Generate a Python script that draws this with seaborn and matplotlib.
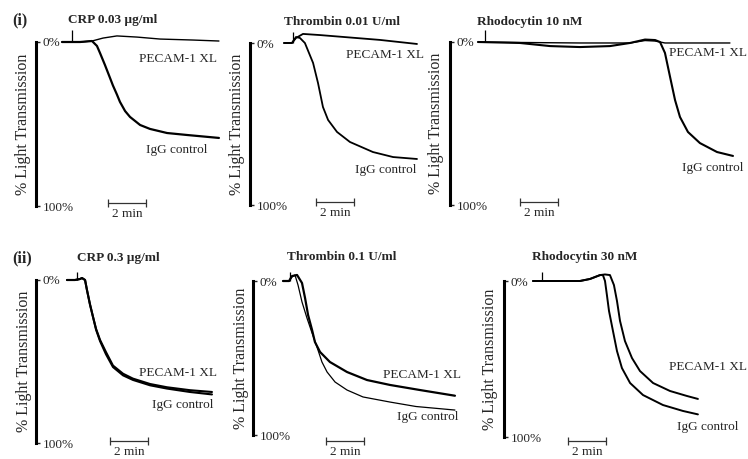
import matplotlib
matplotlib.use('Agg')
import matplotlib.pyplot as plt
import seaborn as sns
import pandas as pd

# time in minutes from start of trace, values in % light transmission
# (i) CRP 0.03 ug/ml
p1_pecam_t = [0, 0.95, 1.58, 2.16, 2.89, 3.95, 5.16, 6.89, 8.26]
p1_pecam_y = [0, 0, -0.6, -2.4, -3.7, -3.0, -1.8, -1.2, -0.6]
p1_igg_t = [0, 0.95, 1.58, 1.84, 2.0, 2.26, 2.53, 2.68, 2.89, 3.05, 3.32, 3.58,
            4.11, 4.63, 5.53, 6.58, 8.26]
p1_igg_y = [0, 0, -0.6, 2.4, 6.7, 14.0, 22.0, 26.5, 32.0, 36.5, 42.1, 45.7,
            50.6, 53.0, 55.5, 56.7, 58.5]

# (i) Thrombin 0.01 U/ml
p2_pecam_t = [0, 0.42, 0.63, 1.0, 1.89, 3.47, 5.05, 7.0]
p2_pecam_y = [0, 0, -3.1, -5.6, -4.9, -3.4, -1.9, 0.6]
p2_igg_t = [0, 0.42, 0.63, 0.84, 1.1, 1.53, 1.79, 2.05, 2.32, 2.79, 3.47, 4.68, 5.74, 7.0]
p2_igg_y = [0, 0, -3.7, -3.1, 0, 12.3, 24.7, 39.5, 47.5, 54.9, 61.1, 67.3, 70.4, 71.6]

# (i) Rhodocytin 10 nM
p3_pecam_t = [0, 2.21, 5.37, 8.0, 8.79, 9.32, 9.84, 13.26]
p3_pecam_y = [0, 0.3, 0.6, 0.6, -0.9, -0.6, 0.6, 0.6]
p3_igg_t = [0, 2.21, 3.79, 5.37, 6.95, 8.0, 8.79, 9.32, 9.58, 9.84, 10.11, 10.37,
            10.63, 11.05, 11.68, 12.58, 13.42]
p3_igg_y = [0, 0.6, 2.5, 3.1, 2.5, 0.6, -1.5, -1.2, 0, 6.7, 21.5, 35.6,
            46.0, 55.2, 62.0, 67.5, 69.9]

# (ii) CRP 0.3 ug/ml
p4_t = [0, 0.42, 0.68, 0.79, 0.95, 1.05, 1.21, 1.37, 1.53, 1.74, 2.05, 2.42,
        2.95, 3.47, 4.37, 5.26, 6.47, 7.63]
p4_pecam_y = [0, 0, -0.6, -1.2, 0, 6.1, 15.0, 22.7, 30.0, 36.8, 44.2, 52.5,
              57.5, 60.5, 63.8, 65.8, 67.6, 68.7]
p4_igg_y = [0, 0, -0.6, -1.2, 0, 6.1, 15.0, 22.7, 30.5, 37.5, 45.5, 53.4,
            58.5, 61.3, 64.6, 66.6, 68.7, 70.2]

# (ii) Thrombin 0.1 U/ml
p5_pecam_t = [0, 0.32, 0.47, 0.74, 1.0, 1.16, 1.32, 1.53, 1.68, 1.95, 2.47,
              3.37, 4.42, 5.63, 7.21, 9.05]
p5_pecam_y = [0, 0, -3.2, -3.9, 1.3, 11.0, 22.1, 31.8, 39.6, 46.1, 52.6,
              59.1, 64.3, 67.5, 70.8, 74.5]
p5_igg_t = [0, 0.32, 0.47, 0.63, 0.79, 1.0, 1.26, 1.53, 1.79, 2.05, 2.32,
            2.74, 3.37, 4.21, 5.63, 7.0, 9.05]
p5_igg_y = [0, 0, -2.6, -3.9, 2.6, 13.6, 24.0, 33.8, 42.9, 52.6, 59.1,
            65.6, 70.8, 75.3, 78.6, 81.5, 83.8]

# (ii) Rhodocytin 30 nM
p6_pecam_t = [0, 1.42, 2.47, 3.0, 3.53, 3.79, 4.05, 4.26, 4.42, 4.58, 4.84,
              5.21, 5.63, 6.32, 7.21, 8.1, 8.68]
p6_pecam_y = [0, 0, 0, -1.3, -3.8, -4.2, -3.8, 2.6, 12.8, 25.6, 38.5,
              49.4, 57.7, 65.4, 70.5, 73.7, 75.6]
p6_igg_t = [0, 1.42, 2.47, 3.0, 3.53, 3.68, 3.79, 3.89, 4.0, 4.21, 4.42,
            4.68, 5.11, 5.79, 6.84, 7.89, 8.68]
p6_igg_y = [0, 0, 0, -1.3, -3.8, -3.8, 0, 9.0, 19.2, 32.1, 44.9,
            55.8, 65.4, 73.1, 79.5, 83.3, 85.5]

titles = ['CRP 0.03 µg/ml', 'Thrombin 0.01 U/ml', 'Rhodocytin 10 nM',
          'CRP 0.3 µg/ml', 'Thrombin 0.1 U/ml', 'Rhodocytin 30 nM']
agonist_added = [0.53, 0.47, 0.37, 0.53, 0.37, 0.47]

traces = [
    (p1_pecam_t, p1_pecam_y, p1_igg_t, p1_igg_y),
    (p2_pecam_t, p2_pecam_y, p2_igg_t, p2_igg_y),
    (p3_pecam_t, p3_pecam_y, p3_igg_t, p3_igg_y),
    (p4_t, p4_pecam_y, p4_t, p4_igg_y),
    (p5_pecam_t, p5_pecam_y, p5_igg_t, p5_igg_y),
    (p6_pecam_t, p6_pecam_y, p6_igg_t, p6_igg_y),
]

# layout, in pixels: bar x, 0% y, 100% y, right x, trace start x
W, H = 748, 459
PX_PER_MIN = 19
boxes = [(36, 42, 206, 219, 62), (250, 43, 205, 417, 284), (450, 42, 205, 733, 478),
         (36, 280, 443, 212, 67), (253, 281, 435, 455, 283), (504, 281, 437, 698, 533)]
title_pos = [(0.32, -13.4), (0.0, -13.0), (-0.05, -12.3),
             (0.53, -13.5), (0.21, -15.6), (-0.05, -15.4)]
pecam_pos = [(8.16, 10.4), (7.37, 7.4), (14.15, 6.7), (7.9, 57), (9.37, 61), (11.26, 55.1)]
igg_pos = [(7.63, 65.9), (6.95, 78.4), (13.95, 77.3), (7.68, 76.7), (9.21, 88.3), (10.79, 93.6)]
scale_pos = [(2.42, 98), (1.68, 98), (2.21, 98), (2.26, 99), (2.26, 104), (1.84, 102.6)]
mark_top = [-7.3, -6.8, -7.4, -4.9, -5.8, -5.8]
widths = [(1.0, 1.6), (1.3, 1.3), (1.0, 1.5), (1.5, 1.5), (1.6, 0.9), (1.4, 1.4)]
ylab_off = [5, 5, 6, 4, 4, 6]

sns.set_style('white')
plt.rcParams['font.family'] = ['Liberation Serif', 'DejaVu Serif']

fig = plt.figure(figsize=(W / 100, H / 100), dpi=100)

for i in range(6):
    bar, y0, y100, right, start = boxes[i]
    ax = fig.add_axes([bar / W, 1 - y100 / H, (right - bar) / W, (y100 - y0) / H])
    pt, py, it, iy = traces[i]
    lw_p, lw_i = widths[i]
    df_p = pd.DataFrame({'t': pt, 'y': py})
    df_i = pd.DataFrame({'t': it, 'y': iy})
    sns.lineplot(data=df_p, x='t', y='y', ax=ax, color='black', lw=lw_p,
                 estimator=None, sort=False, legend=False)
    sns.lineplot(data=df_i, x='t', y='y', ax=ax, color='black', lw=lw_i,
                 estimator=None, sort=False, legend=False)
    for ln in ax.lines:
        ln.set_clip_on(False)
        ln.set_solid_joinstyle('round')

    ax.set_xlim(-(start - bar) / PX_PER_MIN, (right - start) / PX_PER_MIN)
    ax.set_ylim(100, 0)

    for s in ['top', 'right', 'bottom']:
        ax.spines[s].set_visible(False)
    ax.spines['left'].set_linewidth(2.2)
    ax.spines['left'].set_color('black')
    ax.set_xticks([])
    ax.set_yticks([0, 100])
    ax.set_yticklabels(['0%', '100%'])
    ax.tick_params(axis='y', direction='in', length=3, width=1, pad=-5,
                   labelsize=9.5, left=True)
    for lbl in ax.get_yticklabels():
        lbl.set_ha('left')
    ax.set_xlabel('')
    ax.set_ylabel('% Light Transmission', fontsize=11.5)
    ax.yaxis.set_label_coords(-ylab_off[i] / (right - bar), 0.5)

    # agonist addition mark
    ax.vlines(agonist_added[i], mark_top[i], 0, color='black', lw=0.9, clip_on=False)

    # 2 min scale bar
    sx, sy = scale_pos[i]
    ax.plot([sx, sx + 2], [sy, sy], color='#333333', lw=0.9, clip_on=False)
    ax.vlines([sx, sx + 2], sy - 2.5, sy + 2.5, color='#333333', lw=0.9, clip_on=False)
    ax.text(sx + 1, sy + 3, '2 min', ha='center', va='top', fontsize=9.5, clip_on=False)

    tx, ty = title_pos[i]
    ax.text(tx, ty, titles[i], ha='left', va='center', fontsize=9.5, fontweight='bold')
    ax.text(*pecam_pos[i], 'PECAM-1 XL', ha='right', va='center', fontsize=9.5)
    ax.text(*igg_pos[i], 'IgG control', ha='right', va='center', fontsize=9.5)

fig.text(12 / W, 1 - 20 / H, '(i)', fontsize=11.5, fontweight='bold', va='center')
fig.text(12 / W, 1 - 258 / H, '(ii)', fontsize=11.5, fontweight='bold', va='center')

fig.savefig('out.png', dpi=100)
